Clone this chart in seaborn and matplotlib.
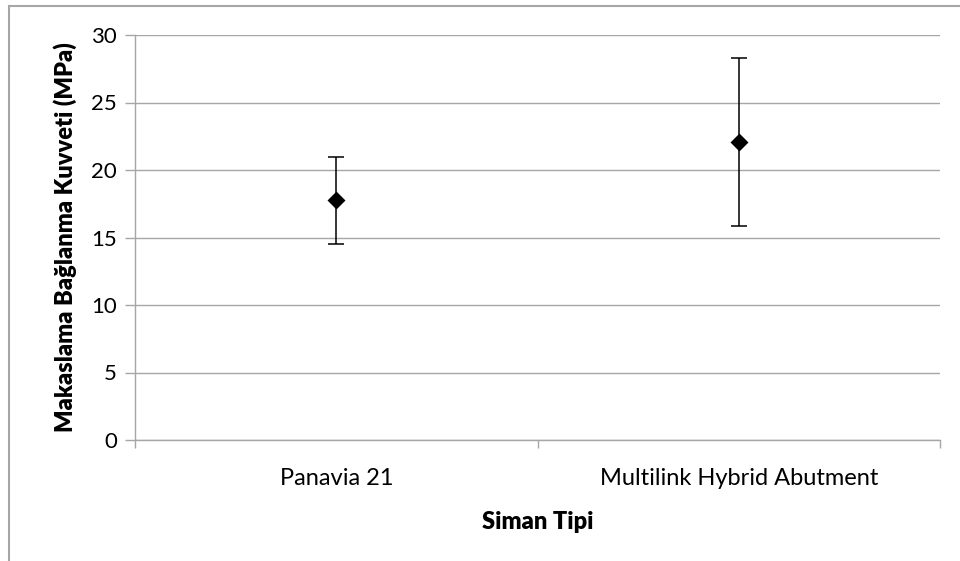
import matplotlib
matplotlib.use("Agg")
import matplotlib.pyplot as plt
import seaborn as sns
import pandas as pd
from matplotlib.patches import Rectangle

categories = ["Panavia 21", "Multilink Hybrid Abutment"]
means = [17.76, 22.05]
errors = [3.22, 6.23]
y_ticks = [0, 5, 10, 15, 20, 25, 30]

sns.set_theme(style="white")
plt.rcParams['font.family'] = ['Lato', 'DejaVu Sans']

df = pd.DataFrame({"cat": categories, "mean": means, "err": errors})

fig = plt.figure(figsize=(9.6, 5.61), dpi=100)
ax = fig.add_axes([135/960, 1-440/561, (940-135)/960, (440-35)/561])

grid_c = "#a6a6a6"
fs = 16
ax.errorbar(range(len(categories)), df["mean"], yerr=df["err"], fmt="none",
            ecolor="black", elinewidth=1.1, capsize=5.5, capthick=1.1, zorder=3)
sns.pointplot(data=df, x="cat", y="mean", errorbar=None, linestyle="none",
              marker="D", markersize=7, color="black", ax=ax, zorder=4)

ax.set_xlim(-0.5, 1.5)
ax.set_ylim(0, 30)
ax.set_yticks(y_ticks)
ax.set_yticklabels([str(t) for t in y_ticks], fontsize=fs, color="black")
ax.yaxis.grid(True, color=grid_c, linewidth=1.0)
ax.set_axisbelow(True)

ax.set_xticks([0, 1])
ax.set_xticklabels(categories, fontsize=17, color="black")
ax.set_xticks([-0.5, 0.5, 1.5], minor=True)
ax.tick_params(axis="x", which="major", length=0, pad=20)
ax.tick_params(axis="x", which="minor", length=6, width=1.0, color=grid_c, direction="out", bottom=True)
ax.tick_params(axis="y", length=7, width=1.0, color=grid_c, direction="out", left=True, pad=6)

for s in ["top", "right"]:
    ax.spines[s].set_visible(False)
for s in ["left", "bottom"]:
    ax.spines[s].set_color(grid_c)
    ax.spines[s].set_linewidth(1.0)

ax.set_xlabel("Siman Tipi", fontsize=17, fontweight="heavy", labelpad=16, color="black")
ax.set_ylabel("Makaslama Bağlanma Kuvveti (MPa)", fontsize=17, fontweight="heavy",
              labelpad=10, color="black")

fig.patches.append(Rectangle((9/960, -0.2), 1.5, (1-6/561)+0.2, transform=fig.transFigure,
                             fill=False, edgecolor=grid_c, linewidth=1.5))

fig.savefig("out.png", dpi=100)
